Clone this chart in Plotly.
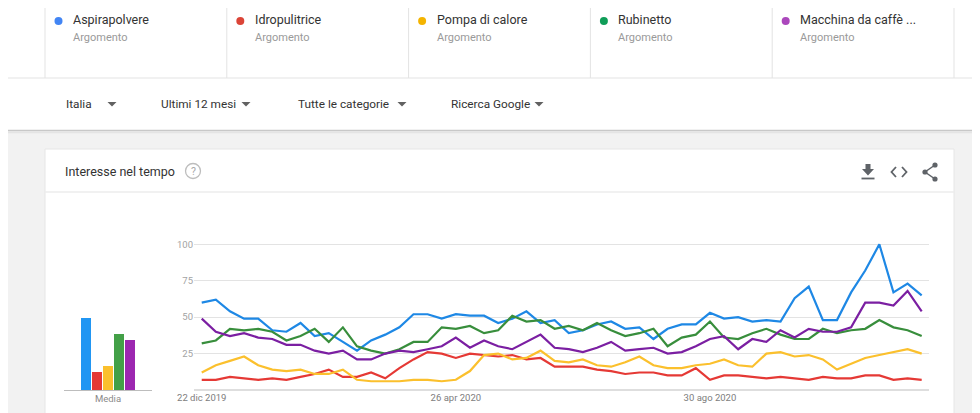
import pandas as pd
import plotly.graph_objects as go

W, H = 980, 413
# the page body adds an 8px margin, so layout positions are shifted back by it
OFFSET = 8
FONT = "Roboto, Arial, sans-serif"

# --- data ---------------------------------------------------------------
terms = ["Aspirapolvere", "Idropulitrice", "Pompa di calore", "Rubinetto", "Macchina da caffè ..."]
dot_colors = ["#4285f4", "#db4437", "#f4b400", "#0f9d58", "#ab47bc"]
line_colors = ["#1e88e5", "#e53935", "#fbc02d", "#388e3c", "#7b1fa2"]
bar_colors = ["#2196f3", "#e53935", "#fbc02d", "#43a047", "#9c27b0"]

weeks = pd.date_range("2019-12-22", periods=52, freq="7D")

aspirapolvere = [60, 62, 54, 49, 49, 41, 40, 46, 37, 39, 33, 27, 34, 38, 43, 52, 52, 49, 52, 51,
                 51, 46, 49, 54, 46, 48, 39, 41, 45, 47, 42, 43, 35, 42, 45, 45, 53, 49, 50, 47,
                 48, 47, 63, 71, 48, 48, 67, 82, 100, 67, 73, 65]
idropulitrice = [7, 7, 9, 8, 7, 8, 7, 9, 11, 14, 9, 9, 12, 8, 15, 21, 26, 25, 22, 25,
                 24, 23, 24, 21, 22, 16, 16, 16, 14, 13, 11, 12, 12, 10, 10, 15, 7, 10, 10, 9,
                 8, 9, 8, 7, 9, 8, 8, 10, 10, 7, 8, 7]
pompa_calore = [12, 17, 20, 23, 17, 14, 13, 14, 11, 11, 14, 7, 6, 6, 6, 7, 7, 6, 7, 13,
                24, 25, 21, 22, 27, 20, 19, 21, 17, 16, 19, 23, 17, 15, 15, 17, 18, 21, 17, 16,
                25, 26, 23, 24, 21, 14, 18, 22, 24, 26, 28, 25]
rubinetto = [32, 34, 42, 41, 42, 40, 34, 37, 42, 33, 43, 30, 27, 25, 28, 33, 33, 43, 42, 44,
             39, 41, 51, 47, 48, 42, 44, 41, 46, 41, 37, 39, 42, 30, 36, 38, 47, 36, 35, 39,
             42, 38, 35, 35, 42, 39, 41, 42, 48, 43, 41, 37]
macchina_caffe = [49, 40, 37, 39, 36, 35, 31, 31, 27, 25, 27, 21, 21, 25, 27, 26, 28, 30, 36, 29,
                  34, 30, 28, 33, 38, 29, 28, 26, 29, 33, 27, 28, 29, 25, 26, 30, 35, 37, 28, 35,
                  33, 41, 36, 42, 40, 40, 43, 60, 60, 58, 68, 54]
series = [aspirapolvere, idropulitrice, pompa_calore, rubinetto, macchina_caffe]

media = [49, 12, 16, 38, 34]

x_tickvals = ["2019-12-22", "2020-04-26", "2020-08-30"]
x_ticktext = ["22 dic 2019", "26 apr 2020", "30 ago 2020"]
y_tickvals = [25, 50, 75, 100]

filters = ["Italia", "Ultimi 12 mesi", "Tutte le categorie", "Ricerca Google"]


def px(x):
    return (x - OFFSET) / W


def py(y):
    return 1 - (y - OFFSET) / H


def ppath(points, close=True):
    s = "M " + " L ".join(f"{px(x):.5f},{py(y):.5f}" for x, y in points)
    return s + (" Z" if close else "")


fig = go.Figure()

for name, vals, col in zip(terms, series, line_colors):
    fig.add_trace(go.Scatter(
        x=weeks, y=vals, mode="lines", name=name,
        line=dict(color=col, width=2.2),
        xaxis="x", yaxis="y",
    ))

fig.add_trace(go.Bar(
    x=list(range(len(media))), y=media,
    marker=dict(color=bar_colors, line=dict(width=0)),
    width=0.9, xaxis="x2", yaxis="y2",
))

shapes = []
annotations = []

# page backgrounds
shapes.append(dict(type="rect", xref="paper", yref="paper", x0=0, x1=1, y0=py(130), y1=1,
                   fillcolor="white", line=dict(width=0), layer="below"))
shapes.append(dict(type="line", xref="paper", yref="paper", x0=0, x1=1, y0=py(78), y1=py(78),
                   line=dict(color="#e3e3e3", width=1), layer="below"))
shapes.append(dict(type="line", xref="paper", yref="paper", x0=0, x1=1, y0=py(130.5), y1=py(130.5),
                   line=dict(color="#c8c8c8", width=1.5), layer="below"))
shapes.append(dict(type="line", xref="paper", yref="paper", x0=0, x1=1, y0=py(132.5), y1=py(132.5),
                   line=dict(color="#e4e4e4", width=1.5), layer="below"))

# legend cards
for i, (name, col) in enumerate(zip(terms, dot_colors)):
    left = 45 + i * 181.8
    shapes.append(dict(type="line", xref="paper", yref="paper", x0=px(left), x1=px(left),
                       y0=1, y1=py(78), line=dict(color="#e3e3e3", width=1), layer="below"))
    shapes.append(dict(type="circle", xref="paper", yref="paper",
                       x0=px(left + 9.5), x1=px(left + 17.5), y0=py(25), y1=py(17),
                       fillcolor=col, line=dict(width=0)))
    annotations.append(dict(text=name, x=px(left + 26), y=py(20), xref="paper", yref="paper",
                            xanchor="left", yanchor="middle", showarrow=False,
                            font=dict(size=12.5, color="#333333", family=FONT)))
    annotations.append(dict(text="Argomento", x=px(left + 26), y=py(38), xref="paper", yref="paper",
                            xanchor="left", yanchor="middle", showarrow=False,
                            font=dict(size=11, color="#9a9a9a", family=FONT)))
shapes.append(dict(type="line", xref="paper", yref="paper", x0=px(954), x1=px(954),
                   y0=1, y1=py(78), line=dict(color="#e3e3e3", width=1), layer="below"))

# filter bar
for text, tx, tri in zip(filters, [64, 159, 296, 449], [112, 246, 402, 539]):
    annotations.append(dict(text=text, x=px(tx), y=py(104), xref="paper", yref="paper",
                            xanchor="left", yanchor="middle", showarrow=False,
                            font=dict(size=11.8, color="#333333", family=FONT)))
    shapes.append(dict(type="path", xref="paper", yref="paper",
                       path=ppath([(tri - 4.5, 102), (tri + 4.5, 102), (tri, 106.5)]),
                       fillcolor="#616161", line=dict(width=0)))

# chart card
shapes.append(dict(type="rect", xref="paper", yref="paper", x0=px(45), x1=px(954), y0=0, y1=py(149),
                   fillcolor="white", line=dict(color="#e6e6e6", width=1), layer="below"))
shapes.append(dict(type="line", xref="paper", yref="paper", x0=px(45), x1=px(954), y0=py(192), y1=py(192),
                   line=dict(color="#ececec", width=1.5), layer="below"))
annotations.append(dict(text="Interesse nel tempo", x=px(63), y=py(171), xref="paper", yref="paper",
                        xanchor="left", yanchor="middle", showarrow=False,
                        font=dict(size=12.5, color="#333333", family=FONT)))
shapes.append(dict(type="circle", xref="paper", yref="paper", x0=px(185.5), x1=px(200.5),
                   y0=py(178.5), y1=py(163.5), line=dict(color="#bdbdbd", width=1.3)))
annotations.append(dict(text="?", x=px(193), y=py(171), xref="paper", yref="paper",
                        xanchor="center", yanchor="middle", showarrow=False,
                        font=dict(size=10.5, color="#a8a8a8", family=FONT)))

# header icons: download, embed, share
icon = "#5f6368"
shapes.append(dict(type="path", xref="paper", yref="paper",
                   path=ppath([(865.5, 164), (870.5, 164), (870.5, 169), (874, 169), (868, 175.5),
                               (862, 169), (865.5, 169)]),
                   fillcolor=icon, line=dict(width=0)))
shapes.append(dict(type="line", xref="paper", yref="paper", x0=px(861.5), x1=px(874.5),
                   y0=py(178.5), y1=py(178.5), line=dict(color=icon, width=1.8)))
shapes.append(dict(type="path", xref="paper", yref="paper",
                   path=ppath([(896, 167), (891.5, 172), (896, 177)], close=False),
                   line=dict(color=icon, width=1.8)))
shapes.append(dict(type="path", xref="paper", yref="paper",
                   path=ppath([(902, 167), (906.5, 172), (902, 177)], close=False),
                   line=dict(color=icon, width=1.8)))
for cx, cy in [(935, 165), (925, 172), (935, 179)]:
    shapes.append(dict(type="circle", xref="paper", yref="paper", x0=px(cx - 2.6), x1=px(cx + 2.6),
                       y0=py(cy + 2.6), y1=py(cy - 2.6), fillcolor=icon, line=dict(width=0)))
shapes.append(dict(type="path", xref="paper", yref="paper",
                   path=ppath([(935, 165), (925, 172), (935, 179)], close=False),
                   line=dict(color=icon, width=1.5)))

# main chart baseline
shapes.append(dict(type="line", xref="paper", yref="paper", x0=px(194), x1=px(929),
                   y0=py(390), y1=py(390), line=dict(color="#bdbdbd", width=1)))

fig.update_layout(
    width=W, height=H,
    margin=dict(l=0, r=0, t=0, b=0, pad=0),
    paper_bgcolor="#f2f2f2",
    plot_bgcolor="rgba(0,0,0,0)",
    showlegend=False,
    font=dict(family=FONT),
    bargap=0,
    shapes=shapes,
    annotations=annotations,
    xaxis=dict(
        domain=[px(194), px(929)], anchor="y", type="date", automargin=False,
        range=["2019-12-18 04:00", "2020-12-16 15:00"],
        tickvals=x_tickvals, ticktext=x_ticktext,
        tickfont=dict(size=9.5, color="#7d7d7d"),
        showgrid=False, zeroline=False, showline=False, ticks="",
    ),
    yaxis=dict(
        domain=[py(390), py(241.4)], anchor="x", automargin=False,
        range=[0, 102], tickvals=y_tickvals,
        tickfont=dict(size=9.5, color="#a3a3a3"),
        showgrid=True, gridcolor="#e3e3e3", gridwidth=1,
        zeroline=False, showline=False, ticks="",
    ),
    xaxis2=dict(
        domain=[px(64), px(152)], anchor="y2", automargin=False,
        range=[-2, 6], tickvals=[2], ticktext=["Media"],
        tickfont=dict(size=9.5, color="#8a8a8a"),
        showgrid=False, zeroline=False, showline=True, linecolor="#bdbdbd", linewidth=1, ticks="",
    ),
    yaxis2=dict(
        domain=[py(390), py(241.4)], anchor="x2", automargin=False,
        range=[0, 102], visible=False,
    ),
)

fig.write_html("out.html")
